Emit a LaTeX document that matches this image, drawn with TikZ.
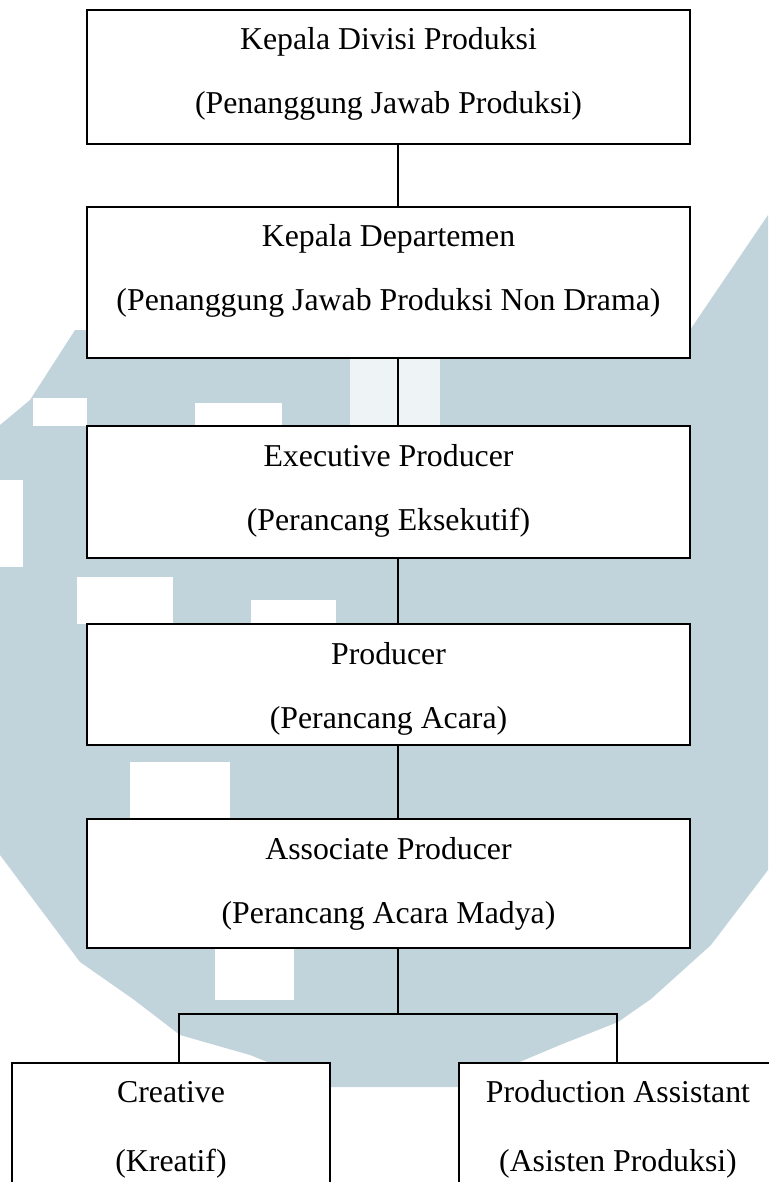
\documentclass[tikz,border=0pt]{standalone}
\usepackage{fontspec}
\setmainfont{Liberation Serif}
\definecolor{wmblue}{RGB}{194,212,219}
\definecolor{wmlight}{RGB}{238,244,246}
\begin{document}
\begin{tikzpicture}[x=1pt,y=-1pt,
  box/.style={draw=black, line width=1.8pt, fill=white, inner sep=0pt, minimum width=603pt},
  lbl/.style={anchor=base, font=\fontsize{31.8}{38}\selectfont, inner sep=0pt},
  conn/.style={draw=black, line width=1.5pt},
  wm/.style={fill=wmblue, draw=none},
  hole/.style={fill=white, draw=none}]
\useasboundingbox (0,0) rectangle (768,1182);
\fill[white] (0,0) rectangle (768,1182);
% watermark
\path[wm] (0,425) -- (30,400) -- (75,330) -- (690,330) -- (768,215) -- (768,870)
  -- (711,945) -- (651,999) -- (618,1022) -- (560,1045) -- (460,1087) -- (330,1087)
  -- (250,1055) -- (180,1035) -- (133,999) -- (80,962) -- (0,855) -- cycle;
\path[hole] (0,480) rectangle (23,567);
\path[hole] (33,398) rectangle (87,426);
\path[hole] (195,403) rectangle (282,426);
\path[fill=wmlight] (350,358) rectangle (440,426);
\path[hole] (77,577) rectangle (173,624);
\path[hole] (251,600) rectangle (336,624);
\path[hole] (130,762) rectangle (230,819);
\path[hole] (215,948) rectangle (294,1000);
% boxes
\node[box, minimum height=134pt] (b1) at (388.5,77) {};
\node[box, minimum height=151pt] (b2) at (388.5,282.5) {};
\node[box, minimum height=132pt] (b3) at (388.5,492) {};
\node[box, minimum height=121pt] (b4) at (388.5,684.5) {};
\node[box, minimum height=129pt] (b5) at (388.5,883.5) {};
\node[box, minimum width=318pt, minimum height=137pt] (b6) at (171,1131.5) {};
\node[box, minimum width=318pt, minimum height=137pt] (b7) at (618,1131.5) {};
% texts
\node[lbl] (t1a) at (388.5,50) {Kepala Divisi Produksi};
\node[lbl] (t1b) at (388.5,114) {(Penanggung Jawab Produksi)};
\node[lbl] (t2a) at (388.5,247) {Kepala Departemen};
\node[lbl] (t2b) at (388.5,310) {(Penanggung Jawab Produksi Non Drama)};
\node[lbl] (t3a) at (388.5,466) {Executive Producer};
\node[lbl] (t3b) at (388.5,530) {(Perancang Eksekutif)};
\node[lbl] (t4a) at (388.5,664) {Producer};
\node[lbl] (t4b) at (388.5,728) {(Perancang Acara)};
\node[lbl] (t5a) at (388.5,859) {Associate Producer};
\node[lbl] (t5b) at (388.5,923) {(Perancang Acara Madya)};
\node[lbl] (t6a) at (171,1102) {Creative};
\node[lbl] (t6b) at (171,1171) {(Kreatif)};
\node[lbl] (t7a) at (618,1102) {Production Assistant};
\node[lbl] (t7b) at (618,1171) {(Asisten Produksi)};
% connectors
\coordinate (cx) at (398,0);
\draw[conn] (b1.south -| cx) -- (b2.north -| cx);
\draw[conn] (b2.south -| cx) -- (b3.north -| cx);
\draw[conn] (b3.south -| cx) -- (b4.north -| cx);
\draw[conn] (b4.south -| cx) -- (b5.north -| cx);
\coordinate (jl) at (179,1014);
\coordinate (jr) at (617,1014);
\draw[conn] (b5.south -| cx) -- (jl -| cx);
\draw[conn, line cap=rect] (jl) -- (jr);
\draw[conn] (jl) -- (jl |- b6.north);
\draw[conn] (jr) -- (jr |- b7.north);
\end{tikzpicture}
\end{document}
